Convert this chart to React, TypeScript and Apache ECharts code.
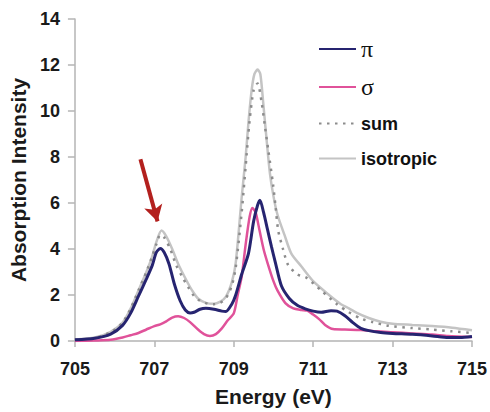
import React, { useEffect, useRef } from "react";
import * as echarts from "echarts";

// Energy (eV) / intensity pairs
const piX = [705.0, 705.5, 705.9, 706.2, 706.4, 706.6, 706.8, 706.95, 707.05, 707.15, 707.25, 707.37, 707.5, 707.65, 707.78, 707.9, 708.0, 708.15, 708.3, 708.5, 708.7, 708.8, 708.95, 709.05, 709.2, 709.37, 709.5, 709.6, 709.66, 709.75, 709.85, 709.95, 710.05, 710.2, 710.4, 710.6, 710.8, 711.0, 711.2, 711.45, 711.6, 711.8, 712.0, 712.2, 712.4, 712.7, 713.0, 713.5, 714.0, 714.4, 714.7, 715.0];
const piY = [0.05, 0.12, 0.3, 0.68, 1.2, 1.95, 2.7, 3.3, 3.85, 4.02, 3.85, 3.35, 2.5, 1.75, 1.35, 1.22, 1.25, 1.38, 1.42, 1.38, 1.3, 1.28, 1.6, 2.0, 2.9, 3.8, 5.2, 5.9, 6.12, 5.6, 4.85, 4.1, 3.4, 2.4, 1.85, 1.55, 1.4, 1.3, 1.25, 1.32, 1.3, 1.1, 0.8, 0.55, 0.45, 0.37, 0.33, 0.29, 0.22, 0.15, 0.15, 0.2];

const sigmaX = [705.0, 705.5, 705.9, 706.2, 706.4, 706.6, 706.8, 707.0, 707.15, 707.3, 707.45, 707.6, 707.75, 707.9, 708.1, 708.25, 708.4, 708.55, 708.7, 708.85, 709.0, 709.1, 709.2, 709.3, 709.4, 709.47, 709.55, 709.65, 709.75, 709.85, 710.0, 710.1, 710.3, 710.5, 710.7, 710.85, 711.0, 711.15, 711.3, 711.5, 711.8, 712.2, 712.6, 713.0, 713.5, 714.0, 714.4, 715.0];
const sigmaY = [0.0, 0.02, 0.05, 0.15, 0.25, 0.35, 0.5, 0.65, 0.72, 0.85, 1.02, 1.08, 1.0, 0.82, 0.5, 0.3, 0.22, 0.3, 0.55, 0.9, 1.2, 2.0, 2.8, 4.2, 5.4, 5.78, 5.6, 4.8, 4.0, 3.4, 2.6, 2.2, 1.65, 1.42, 1.35, 1.32, 1.15, 0.95, 0.7, 0.52, 0.5, 0.48, 0.42, 0.38, 0.33, 0.28, 0.22, 0.17];

const sumX = [705.0, 705.5, 705.9, 706.2, 706.4, 706.6, 706.8, 706.95, 707.05, 707.15, 707.25, 707.4, 707.55, 707.7, 707.85, 708.0, 708.15, 708.35, 708.5, 708.65, 708.8, 708.95, 709.05, 709.2, 709.3, 709.4, 709.5, 709.6, 709.7, 709.78, 709.87, 709.99, 710.05, 710.12, 710.24, 710.37, 710.6, 710.83, 711.2, 711.6, 711.9, 712.2, 712.5, 712.9, 713.5, 714.0, 714.5, 715.0];
const sumY = [0.05, 0.13, 0.38, 0.8, 1.4, 2.2, 3.0, 3.7, 4.2, 4.62, 4.5, 4.0, 3.3, 2.8, 2.35, 1.95, 1.75, 1.62, 1.6, 1.65, 1.85, 2.4, 3.2, 5.6, 7.6, 9.6, 10.9, 11.2, 10.4, 9.4, 8.3, 6.8, 5.9, 4.8, 4.0, 3.3, 2.9, 2.75, 2.2, 1.6, 1.25, 0.98, 0.82, 0.66, 0.56, 0.5, 0.42, 0.35];

const isoX = [705.0, 705.5, 705.9, 706.2, 706.4, 706.6, 706.8, 706.95, 707.05, 707.18, 707.3, 707.45, 707.6, 707.7, 707.85, 707.95, 708.1, 708.3, 708.5, 708.65, 708.8, 708.95, 709.05, 709.2, 709.3, 709.37, 709.45, 709.52, 709.6, 709.67, 709.74, 709.83, 709.91, 710.0, 710.1, 710.28, 710.45, 710.7, 711.0, 711.4, 711.7, 711.9, 712.1, 712.4, 712.7, 713.0, 713.5, 714.0, 714.5, 715.0];
const isoY = [0.07, 0.15, 0.4, 0.8, 1.4, 2.2, 3.0, 3.7, 4.3, 4.8, 4.55, 4.0, 3.35, 3.0, 2.5, 2.2, 1.85, 1.66, 1.62, 1.7, 1.92, 2.55, 3.4, 6.25, 8.0, 9.5, 10.9, 11.6, 11.8, 11.6, 10.4, 8.7, 7.3, 6.3, 5.5, 4.6, 3.8, 3.25, 2.6, 2.0, 1.6, 1.42, 1.22, 1.0, 0.84, 0.75, 0.7, 0.65, 0.58, 0.47];

// Annotation arrow (data coordinates)
const arrowFrom = [706.65, 7.9];
const arrowTo = [707.08, 5.2];

const xTicks = { min: 705, max: 715, interval: 2 };
const yTicks = { min: 0, max: 14, interval: 2 };

const zip = (xs: number[], ys: number[]) => xs.map((x, i) => [x, ys[i]]);

const FONT = "'Liberation Sans', Arial, sans-serif";

export default function App() {
  const ref = useRef<HTMLDivElement>(null);
  useEffect(() => {
    if (!ref.current) return;
    const chart = echarts.init(ref.current, null, { renderer: "svg" });
    const axisGray = "#b4b4b4";
    chart.setOption({
      animation: false,
      backgroundColor: "#ffffff",
      grid: { left: 72, right: 18, top: 19, bottom: 66, containLabel: false },
      xAxis: {
        type: "value",
        min: xTicks.min,
        max: xTicks.max,
        interval: xTicks.interval,
        name: "Energy (eV)",
        nameLocation: "middle",
        nameGap: 45,
        nameTextStyle: { fontFamily: FONT, fontWeight: "bold", fontSize: 21, color: "#1a1a1a" },
        axisLine: { lineStyle: { color: axisGray, width: 1.5 } },
        axisTick: { show: true, length: 6, lineStyle: { color: axisGray, width: 1.5 } },
        axisLabel: { margin: 19, fontFamily: FONT, fontWeight: "bold", fontSize: 18, color: "#1a1a1a" },
        splitLine: { show: false },
      },
      yAxis: {
        type: "value",
        min: yTicks.min,
        max: yTicks.max,
        interval: yTicks.interval,
        name: "Absorption Intensity",
        nameLocation: "middle",
        nameGap: 38,
        nameTextStyle: { fontFamily: FONT, fontWeight: "bold", fontSize: 21, color: "#1a1a1a" },
        axisLine: { show: true, lineStyle: { color: axisGray, width: 1.5 } },
        axisTick: { show: true, length: 7, lineStyle: { color: axisGray, width: 1.5 } },
        axisLabel: { margin: 15, fontFamily: FONT, fontWeight: "bold", fontSize: 18, color: "#1a1a1a" },
        splitLine: { show: false },
      },
      legend: {
        data: ["π", "σ", "sum", "isotropic"],
        orient: "vertical",
        left: 313,
        top: 32,
        itemWidth: 37,
        itemHeight: 14,
        itemGap: 14,
        itemStyle: { opacity: 0 },
        formatter: (name: string) => (name === "π" || name === "σ" ? `{g|${name}}` : `{b|${name}}`),
        textStyle: {
          lineHeight: 21,
          rich: {
            g: { fontFamily: "'Liberation Serif', 'DejaVu Serif', serif", fontSize: 24, color: "#111", lineHeight: 21 },
            b: { fontFamily: FONT, fontWeight: "bold", fontSize: 18, color: "#111", lineHeight: 21 },
          },
        },
      },
      series: [
        {
          name: "isotropic",
          type: "line",
          data: zip(isoX, isoY),
          smooth: 0.25,
          symbol: "none",
          lineStyle: { color: "#c4c4c4", width: 2.5 },
          itemStyle: { color: "#c4c4c4" },
        },
        {
          name: "sum",
          type: "line",
          data: zip(sumX, sumY),
          smooth: 0.25,
          symbol: "none",
          lineStyle: { color: "#8c8c8c", width: 2.5, type: [2.5, 5.5] },
          itemStyle: { color: "#8c8c8c" },
        },
        {
          name: "σ",
          type: "line",
          data: zip(sigmaX, sigmaY),
          smooth: 0.25,
          symbol: "none",
          lineStyle: { color: "#e0529a", width: 2.5 },
          itemStyle: { color: "#e0529a" },
        },
        {
          name: "π",
          type: "line",
          data: zip(piX, piY),
          smooth: 0.25,
          symbol: "none",
          lineStyle: { color: "#262470", width: 3 },
          itemStyle: { color: "#262470" },
          markLine: {
            silent: true,
            symbol: ["none", "arrow"],
            symbolSize: [14, 16],
            label: { show: false },
            lineStyle: { color: "#b3201e", width: 4, type: "solid" },
            data: [[{ coord: arrowFrom }, { coord: arrowTo }]],
          },
        },
      ],
    });
    return () => chart.dispose();
  }, []);
  return (
    <div
      ref={ref}
      style={{ position: "fixed", left: 0, top: 0, width: 490, height: 412, background: "#fff" }}
    />
  );
}
